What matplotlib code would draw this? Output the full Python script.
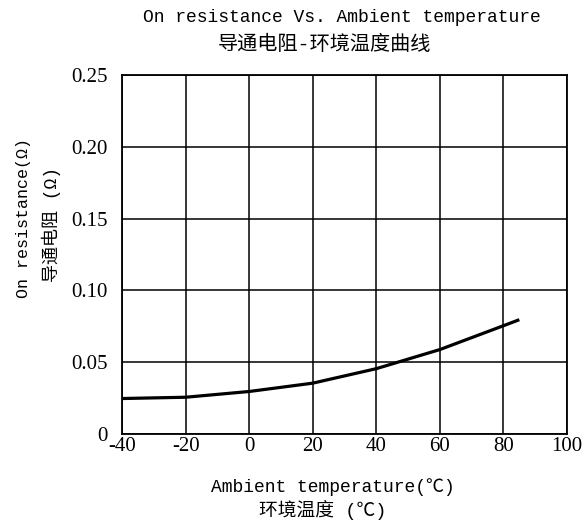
import numpy as np
import matplotlib
matplotlib.use('Agg')
import matplotlib.pyplot as plt

# data
temp = [-40, -20, 0, 20, 40, 60, 80, 85]
r_on = [0.0247, 0.0256, 0.0296, 0.0354, 0.0455, 0.0588, 0.0754, 0.0796]

xticks = [-40, -20, 0, 20, 40, 60, 80, 100]
yticks = [0, 0.05, 0.10, 0.15, 0.20, 0.25]
ytick_labels = ['0', '0.05', '0.10', '0.15', '0.20', '0.25']

mono = ['Liberation Mono', 'Noto Sans CJK SC', 'DejaVu Sans']
serif = ['Liberation Serif', 'DejaVu Serif']

fig = plt.figure(figsize=(5.85, 5.28), dpi=100)
ax = fig.add_axes([122/585, 1 - 434/528, (567-122)/585, (434-75)/528])

ax.plot(temp, r_on, color='black', lw=2.3, solid_capstyle='butt')

ax.set_xlim(-40, 100)
ax.set_ylim(0, 0.25)
ax.set_xticks(xticks)
ax.set_yticks(yticks)
ax.set_xticklabels([str(t) for t in xticks], family=serif, fontsize=15)
ax.set_yticklabels(ytick_labels, family=serif, fontsize=15)
ax.tick_params(length=0, pad=2)
ax.tick_params(axis='y', pad=10)
ax.grid(True, color='black', lw=1.1)
for s in ax.spines.values():
    s.set_linewidth(1.3)

fig.text(342/585, 1 - 17/528, 'On resistance Vs. Ambient temperature', family=mono,
         fontsize=13, ha='center', va='center')
fig.text(324/585, 1 - 44/528, '导通电阻-环境温度曲线', family=mono,
         fontsize=14.5, ha='center', va='center')

fig.text(333/585, 1 - 487/528, 'Ambient temperature(℃)', family=mono,
         fontsize=13, ha='center', va='center')
fig.text(323/585, 1 - 510/528, '环境温度 (℃)', family=mono,
         fontsize=13.5, ha='center', va='center')

fig.text(24/585, 1 - 218/528, 'On resistance(Ω)', family=mono,
         fontsize=12, ha='center', va='center', rotation=90)
fig.text(51/585, 1 - 225/528, '导通电阻 (Ω)', family=mono,
         fontsize=13, ha='center', va='center', rotation=90)

fig.savefig('out.png', dpi=100)
